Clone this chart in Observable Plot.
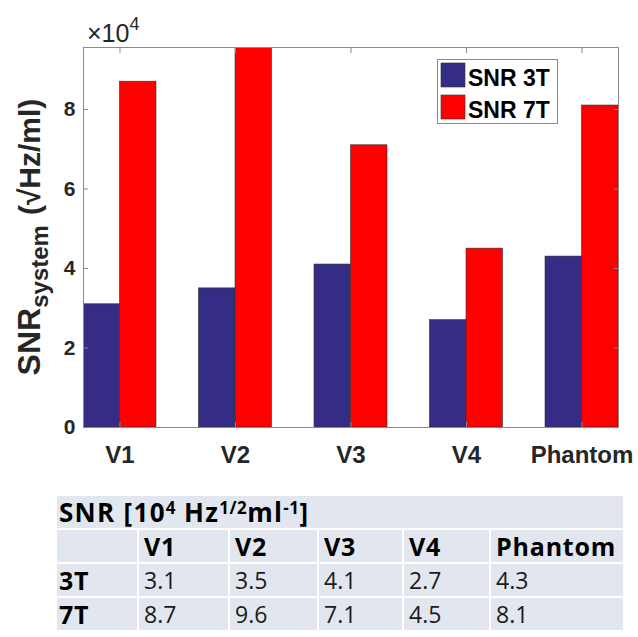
<!DOCTYPE html>
<html>
<head>
<meta charset="utf-8">
<script src="https://cdn.jsdelivr.net/npm/d3@7"></script>
<script src="https://cdn.jsdelivr.net/npm/@observablehq/plot@0.6"></script>
<style>
  body { margin: 0; background: #fff; }
  #wrap { position: relative; width: 638px; height: 637px; overflow: hidden; background: #fff; }
  #chart { position: absolute; left: 0; top: 0; }
  #tbl { position: absolute; left: 55px; top: 494px; border-collapse: collapse; table-layout: fixed; width: 568px;
         font-family: "Open Sans", "Noto Sans", sans-serif; font-size: 23px; color: #1a1a1a; }
  #tbl td { background: #e2e7ef; border: 2px solid #fff; height: 32px; padding: 0 0 0 5px; line-height: 32px;
            vertical-align: middle; white-space: nowrap; overflow: visible; }
  #tbl td.b { font-weight: bold; font-size: 25px; letter-spacing: 0.8px; color: #000; }
  #tbl td.title { font-size: 26px; letter-spacing: 1.3px; }
  #tbl td.first { padding-left: 2px; }
  #tbl sup { font-size: 17px; line-height: 0; vertical-align: 8px; letter-spacing: 0.5px; }
</style>
</head>
<body>
<div id="wrap"><div id="chart"></div></div>
<script>
// ---- data ----
const categories = ["V1", "V2", "V3", "V4", "Phantom"];
const snr3T = [3.1, 3.5, 4.1, 2.7, 4.3];   // x 10^4
const snr7T = [8.7, 9.6, 7.1, 4.5, 8.1];   // x 10^4
const seriesNames = ["SNR 3T", "SNR 7T"];
const tableRowLabels = ["3T", "7T"];
const yTicks = [0, 2, 4, 6, 8];

// ---- layout constants ----
const barW = 0.316;
const seriesColors = ["#342c85", "#ff0000"];

const rows = categories.flatMap((c, i) => [
  { cat: c, pos: i + 1, series: seriesNames[0], value: snr3T[i], x1: i + 1 - barW, x2: i + 1 },
  { cat: c, pos: i + 1, series: seriesNames[1], value: snr7T[i], x1: i + 1, x2: i + 1 + barW }
]);
const xTickPos = categories.map((c, i) => i + 1);
const axisGray = "#8a8a8a";
const txt = "#262626";

const chart = Plot.plot({
  width: 638, height: 480,
  marginLeft: 83, marginRight: 20, marginTop: 47, marginBottom: 53,
  style: { fontFamily: "'Liberation Sans', Arial, sans-serif", background: "white", color: txt, overflow: "visible" },
  x: { type: "linear", domain: [1 - barW, categories.length + barW] },
  y: { domain: [0, 9.56], label: null },
  color: { domain: seriesNames, range: seriesColors },
  marks: [
    Plot.rect(rows, { x1: "x1", x2: "x2", y1: 0, y2: "value", fill: "series", stroke: "#333", strokeWidth: 0.6, clip: true }),
    Plot.frame({ stroke: axisGray }),
    Plot.axisX({ ticks: xTickPos, tickFormat: d => categories[d - 1], tickSize: 0, tickPadding: 18,
                 fontSize: 24, fontWeight: "bold", label: null }),
    Plot.axisX({ ticks: xTickPos, tickSize: -5, tickFormat: () => "", label: null, stroke: axisGray }),
    Plot.axisX({ anchor: "top", ticks: xTickPos, tickSize: -5, tickFormat: () => "", label: null, stroke: axisGray }),
    Plot.axisY({ ticks: yTicks, tickSize: 0, tickPadding: 8, fontSize: 21, fontWeight: "bold", label: null }),
    Plot.axisY({ ticks: yTicks, tickSize: -5, tickFormat: () => "", label: null, stroke: axisGray }),
    Plot.axisY({ anchor: "right", ticks: yTicks, tickSize: -5, tickFormat: () => "", label: null, stroke: axisGray })
  ]
});
document.getElementById("chart").appendChild(chart);

const svg = d3.select(chart);
const ff = "'Liberation Sans', Arial, sans-serif";

// y label with subscript
const yl = svg.append("text")
  .attr("transform", "translate(40,237) rotate(-90)")
  .attr("text-anchor", "middle")
  .style("font-family", ff).style("font-weight", "bold").style("fill", txt);
yl.append("tspan").text("SNR").style("font-size", "32px");
yl.append("tspan").text("system").style("font-size", "24px").attr("dy", 8);
yl.append("tspan").text("(√Hz/ml)").style("font-size", "30px").attr("dy", -8).attr("dx", 10);

// exponent label
const ex = svg.append("text").attr("x", 87).attr("y", 42).attr("text-anchor", "start")
  .style("font-family", ff).style("fill", txt).style("font-size", "25px");
ex.append("tspan").text("×10");
ex.append("tspan").text("4").style("font-size", "18px").attr("dy", -12);

// legend
const color = chart.scale("color");
const lg = svg.append("g").attr("text-anchor", "start");
lg.append("rect").attr("x", 437.5).attr("y", 59.5).attr("width", 120).attr("height", 64)
  .attr("fill", "white").attr("stroke", axisGray);
seriesNames.forEach((s, k) => {
  lg.append("rect").attr("x", 441).attr("y", 63 + 32 * k).attr("width", 24).attr("height", 24)
    .attr("fill", color.apply(s)).attr("stroke", "#333").attr("stroke-width", 0.6);
  lg.append("text").attr("x", 468).attr("y", 86 + 32 * k).attr("text-anchor", "start").text(s)
    .style("font-family", ff).style("font-weight", "bold").style("font-size", "23px").style("fill", "#000");
});

// table
const colW = [82, 91, 89, 85, 87, 134];
let html = '<table id="tbl"><colgroup>' + colW.map(w => `<col style="width:${w}px">`).join("") + '</colgroup>';
html += `<tr><td class="b first title" colspan="6">SNR [10<sup>4</sup> Hz<sup>1/2</sup>ml<sup>-1</sup>]</td></tr>`;
html += '<tr><td class="first"></td>' + categories.map(c => `<td class="b">${c}</td>`).join("") + '</tr>';
[snr3T, snr7T].forEach((vals, r) => {
  html += `<tr><td class="b first">${tableRowLabels[r]}</td>` + vals.map(v => `<td>${v.toFixed(1)}</td>`).join("") + '</tr>';
});
html += '</table>';
document.getElementById("wrap").insertAdjacentHTML("beforeend", html);
</script>
</body>
</html>
